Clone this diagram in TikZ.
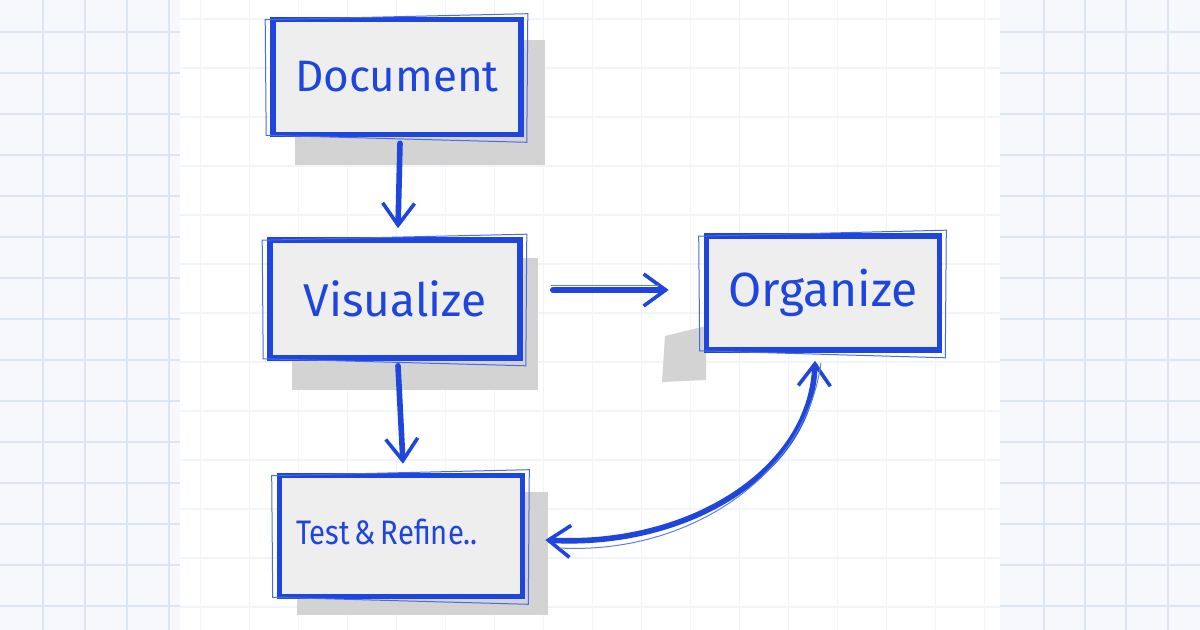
\documentclass[tikz,border=0pt]{standalone}
\usepackage{fontspec}
\setmainfont{Fira Sans}
\usetikzlibrary{arrows.meta}
\definecolor{ink}{HTML}{1E46DC}
\definecolor{outerbg}{HTML}{F6F8FC}
\definecolor{outergrid}{HTML}{DCE5F2}
\definecolor{innergrid}{HTML}{F1F4F8}
\definecolor{boxfill}{HTML}{EEEEEE}
\definecolor{shade}{HTML}{D3D3D3}
\begin{document}
\begin{tikzpicture}[x=0.5pt,y=-0.5pt,
  stepbox/.style={draw=ink, line width=2.8pt, fill=boxfill, rectangle, inner sep=0pt, text=ink},
  sketch/.style={draw=ink!80, line width=0.5pt, line cap=round},
  shadowbox/.style={fill=shade},
  arr/.style={draw=ink, line width=2.8pt, line cap=round, -{Straight Barb[length=11pt,width=16pt,line width=1.8pt]}},
  arrboth/.style={draw=ink, line width=2.8pt, line cap=round, {Straight Barb[length=11pt,width=16pt,line width=1.8pt]}-{Straight Barb[length=11pt,width=16pt,line width=1.8pt]}},
  ghost/.style={draw=ink!70, line width=0.5pt}
]
\useasboundingbox (0,0) rectangle (1200,630);
% background
\fill[outerbg] (0,0) rectangle (1200,630);
\foreach \x in {43,85,127,169} \draw[outergrid, line width=0.7pt] (\x,0) -- (\x,630);
\foreach \x in {1044,1085,1126,1168} \draw[outergrid, line width=0.7pt] (\x,0) -- (\x,630);
\foreach \y in {32,73,...,630} {
  \draw[outergrid, line width=0.7pt] (0,\y) -- (180,\y);
  \draw[outergrid, line width=0.7pt] (1000,\y) -- (1200,\y);
}
\fill[white] (180,0) rectangle (1000,630);
\foreach \y in {19,68,...,630} \draw[innergrid, line width=0.6pt] (180,\y) -- (1000,\y);
\foreach \x in {200,249,...,1000} \draw[innergrid, line width=0.5pt] (\x,0) -- (\x,630);

% shadows
\fill[shadowbox] (295,40) rectangle (545,165);
\fill[shadowbox] (292,258) rectangle (538,390);
\fill[shadowbox] (665,336) -- (706,326) -- (706,380) -- (662,382) -- cycle;
\fill[shadowbox] (297,492) rectangle (548,615);

% boxes
\node[stepbox, minimum width=124pt, minimum height=57.5pt] (doc) at (397,77)
  {\fontsize{22}{24}\selectfont Document};
\node[stepbox, minimum width=125pt, minimum height=59pt] (vis) at (395,299)
  {\fontsize{23}{25}\selectfont Visualize};
\node[stepbox, minimum width=116.5pt, minimum height=57pt] (org) at (823,293)
  {\fontsize{24}{26}\selectfont Organize};
\node[stepbox, minimum width=121.5pt, minimum height=60.5pt] (test) at (401,536)
  {\raisebox{4pt}{\scalebox{0.86}[1]{\fontsize{17}{19}\selectfont Test\,\&\,Refine..}}\hspace*{14pt}};

% sketchy extra strokes
\foreach \n in {doc,vis,org,test} {
  \draw[sketch] ([shift={(-5,3)}]\n.north west) -- ([shift={(4,-3)}]\n.north east)
     -- ([shift={(3,5)}]\n.south east) -- ([shift={(-4,-2)}]\n.south west) -- cycle;
}

% arrows
\draw[arr] ([shift={(3,6)}]doc.south) -- ([shift={(3,-9)}]vis.north);
\draw[arr] ([shift={(3,5)}]vis.south) -- ([shift={(2,-9)}]test.north);
\draw[arr] ([shift={(30,-9)}]vis.east) -- ([shift={(-35,-3)}]org.west);
\draw[arrboth] ([shift={(-8,8)}]org.south) .. controls (812,470) and (690,548) .. ([shift={(20,4)}]test.east);
\draw[ghost] ([shift={(28,-13)}]vis.east) -- ([shift={(-45,-7)}]org.west);
\draw[ghost] ([shift={(-2,10)}]org.south) .. controls (806,475) and (690,555) .. ([shift={(34,12)}]test.east);
\end{tikzpicture}
\end{document}
